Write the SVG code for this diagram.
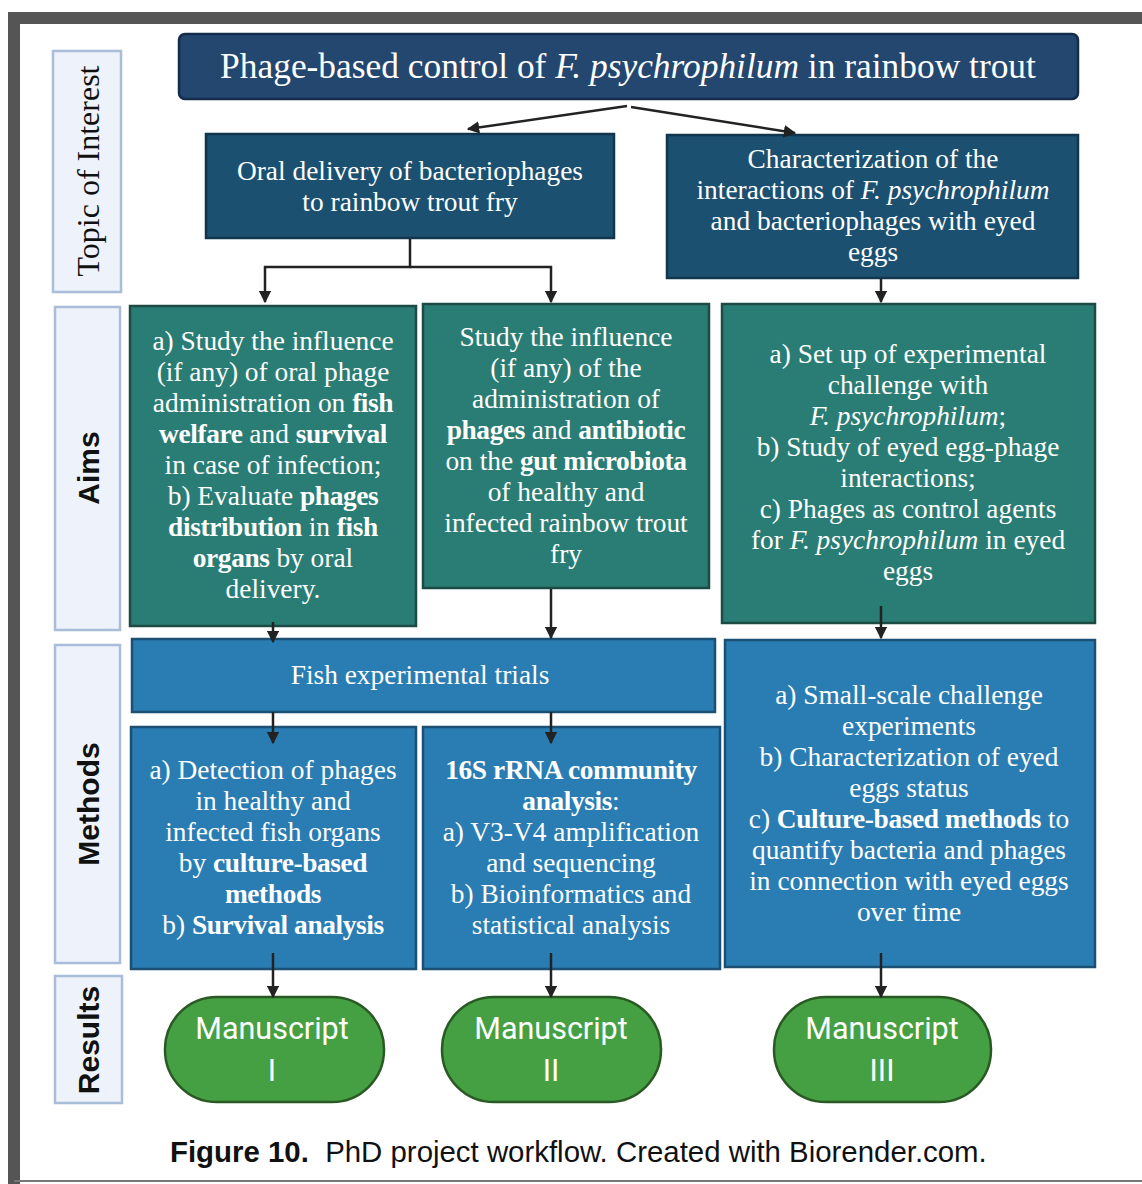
<svg xmlns="http://www.w3.org/2000/svg" width="1142" height="1184" viewBox="0 0 1142 1184">
<style>
.lab{fill:#eef3fb;stroke:#a9bcd8;stroke-width:2.5}
.labt{font-family:"Liberation Sans",Arial,sans-serif;font-weight:bold;font-size:30px;fill:#111}
.s{font-family:"Liberation Serif","Times New Roman",serif;font-size:27.4px;fill:#fff;text-anchor:middle}
.b{font-weight:bold;letter-spacing:-0.4px}
.i{font-style:italic}
.top{fill:#24476f;stroke:#142c4a;stroke-width:2.5}
.sub{fill:#1b5070;stroke:#10354c;stroke-width:2.5}
.aim{fill:#2a7d74;stroke:#1c4a44;stroke-width:2.5}
.met{fill:#2a7db3;stroke:#1b4f73;stroke-width:2.5}
.pill{fill:#45a043;stroke:#2a5a23;stroke-width:2.5}
.ms{font-family:Roboto,"Liberation Sans",sans-serif;font-size:30.5px;fill:#fff;text-anchor:middle}
.c{fill:none;stroke:#222;stroke-width:2.5}
</style>
<defs>
<marker id="ah" viewBox="0 0 10 10" refX="9" refY="5" markerWidth="5" markerHeight="5" orient="auto" markerUnits="strokeWidth">
<path d="M0,0 L10,5 L0,10 z" fill="#222"/>
</marker>
</defs>
<rect x="0" y="0" width="1142" height="1184" fill="#fff"/>
<g id="frame">
<path d="M14,1184 V18 H1142" fill="none" stroke="#555" stroke-width="12"/>
<line x1="14" y1="1181" x2="1142" y2="1181" stroke="#777" stroke-width="2"/>
</g>
<g id="label-topic">
<rect class="lab" x="53" y="51" width="68" height="241"/>
<text transform="translate(99,171) rotate(-90)" text-anchor="middle" style="font-family:'Liberation Serif',serif;font-size:32px;fill:#111">Topic of Interest</text>
</g>
<g id="label-aims">
<rect class="lab" x="55" y="307" width="65" height="323"/>
<text class="labt" transform="translate(99,468) rotate(-90)" text-anchor="middle">Aims</text>
</g>
<g id="label-methods">
<rect class="lab" x="55" y="645" width="65" height="318"/>
<text class="labt" transform="translate(99,804) rotate(-90)" text-anchor="middle">Methods</text>
</g>
<g id="label-results">
<rect class="lab" x="55" y="976" width="67" height="127"/>
<text class="labt" transform="translate(99,1040) rotate(-90)" text-anchor="middle">Results</text>
</g>
<g id="title">
<rect class="top" x="179" y="34" width="899" height="65" rx="6"/>
<text class="s" x="628" y="78" style="font-size:35.4px">Phage-based control of <tspan class="i">F. psychrophilum</tspan> in rainbow trout</text>
</g>
<g id="oral">
<rect class="sub" x="206" y="134" width="408" height="104"/>
<text class="s" x="410" y="180">Oral delivery of bacteriophages</text>
<text class="s" x="410" y="211">to rainbow trout fry</text>
</g>
<g id="charact">
<rect class="sub" x="667" y="135" width="411" height="143"/>
<text class="s" x="873" y="168">Characterization of the</text>
<text class="s" x="873" y="199">interactions of <tspan class="i">F. psychrophilum</tspan></text>
<text class="s" x="873" y="230">and bacteriophages with eyed</text>
<text class="s" x="873" y="261">eggs</text>
</g>
<g id="aim1">
<rect class="aim" x="130" y="306" width="286" height="320"/>
<text class="s" x="273" y="350">a) Study the influence</text>
<text class="s" x="273" y="381">(if any) of oral phage</text>
<text class="s" x="273" y="412">administration on <tspan class="b">fish</tspan></text>
<text class="s" x="273" y="443"><tspan class="b">welfare</tspan> and <tspan class="b">survival</tspan></text>
<text class="s" x="273" y="474">in case of infection;</text>
<text class="s" x="273" y="505">b) Evaluate <tspan class="b">phages</tspan></text>
<text class="s" x="273" y="536"><tspan class="b">distribution</tspan> in <tspan class="b">fish</tspan></text>
<text class="s" x="273" y="567"><tspan class="b">organs</tspan> by oral</text>
<text class="s" x="273" y="598">delivery.</text>
</g>
<g id="aim2">
<rect class="aim" x="423" y="304" width="286" height="284"/>
<text class="s" x="566" y="346">Study the influence</text>
<text class="s" x="566" y="377">(if any) of the</text>
<text class="s" x="566" y="408">administration of</text>
<text class="s" x="566" y="439"><tspan class="b">phages</tspan> and <tspan class="b">antibiotic</tspan></text>
<text class="s" x="566" y="470">on the <tspan class="b">gut microbiota</tspan></text>
<text class="s" x="566" y="501">of healthy and</text>
<text class="s" x="566" y="532">infected rainbow trout</text>
<text class="s" x="566" y="563">fry</text>
</g>
<g id="aim3">
<rect class="aim" x="722" y="304" width="373" height="319"/>
<text class="s" x="908" y="363">a) Set up of experimental</text>
<text class="s" x="908" y="394">challenge with</text>
<text class="s" x="908" y="425"><tspan class="i">F. psychrophilum</tspan>;</text>
<text class="s" x="908" y="456">b) Study of eyed egg-phage</text>
<text class="s" x="908" y="487">interactions;</text>
<text class="s" x="908" y="518">c) Phages as control agents</text>
<text class="s" x="908" y="549">for <tspan class="i">F. psychrophilum</tspan> in eyed</text>
<text class="s" x="908" y="580">eggs</text>
</g>
<g id="fish-trials">
<rect class="met" x="132" y="639" width="583" height="73"/>
<text class="s" x="420" y="684">Fish experimental trials</text>
</g>
<g id="method1">
<rect class="met" x="131" y="727" width="285" height="242"/>
<text class="s" x="273" y="779">a) Detection of phages</text>
<text class="s" x="273" y="810">in healthy and</text>
<text class="s" x="273" y="841">infected fish organs</text>
<text class="s" x="273" y="872">by <tspan class="b">culture-based</tspan></text>
<text class="s b" x="273" y="903">methods</text>
<text class="s" x="273" y="934">b) <tspan class="b">Survival analysis</tspan></text>
</g>
<g id="method2">
<rect class="met" x="423" y="727" width="297" height="242"/>
<text class="s b" x="571" y="779">16S rRNA community</text>
<text class="s" x="571" y="810"><tspan class="b">analysis</tspan>:</text>
<text class="s" x="571" y="841">a) V3-V4 amplification</text>
<text class="s" x="571" y="872">and sequencing</text>
<text class="s" x="571" y="903">b) Bioinformatics and</text>
<text class="s" x="571" y="934">statistical analysis</text>
</g>
<g id="method3">
<rect class="met" x="725" y="640" width="370" height="327"/>
<text class="s" x="909" y="704">a) Small-scale challenge</text>
<text class="s" x="909" y="735">experiments</text>
<text class="s" x="909" y="766">b) Characterization of eyed</text>
<text class="s" x="909" y="797">eggs status</text>
<text class="s" x="909" y="828">c) <tspan class="b">Culture-based methods</tspan> to</text>
<text class="s" x="909" y="859">quantify bacteria and phages</text>
<text class="s" x="909" y="890">in connection with eyed eggs</text>
<text class="s" x="909" y="921">over time</text>
</g>
<g id="ms1">
<rect class="pill" x="165" y="997" width="219" height="105" rx="52"/>
<text class="ms" x="272" y="1039">Manuscript</text>
<text class="ms" x="272" y="1081">I</text>
</g>
<g id="ms2">
<rect class="pill" x="442" y="997" width="219" height="105" rx="52"/>
<text class="ms" x="551" y="1039">Manuscript</text>
<text class="ms" x="551" y="1081">II</text>
</g>
<g id="ms3">
<rect class="pill" x="774" y="997" width="217" height="105" rx="52"/>
<text class="ms" x="882" y="1039">Manuscript</text>
<text class="ms" x="882" y="1081">III</text>
</g>
<g id="connectors">
<polyline class="c" points="627,106 468,129" marker-end="url(#ah)"/>
<polyline class="c" points="631,107 795,133" marker-end="url(#ah)"/>
<polyline class="c" points="410,239 410,267 265,267 265,302" marker-end="url(#ah)"/>
<polyline class="c" points="410,267 551,267 551,302" marker-end="url(#ah)"/>
<line class="c" x1="881" y1="279" x2="881" y2="302" marker-end="url(#ah)"/>
<line class="c" x1="273" y1="622" x2="273" y2="642" marker-end="url(#ah)"/>
<line class="c" x1="551" y1="589" x2="551" y2="638" marker-end="url(#ah)"/>
<line class="c" x1="881" y1="606" x2="881" y2="638" marker-end="url(#ah)"/>
<line class="c" x1="273" y1="712" x2="273" y2="743" marker-end="url(#ah)"/>
<line class="c" x1="551" y1="712" x2="551" y2="743" marker-end="url(#ah)"/>
<line class="c" x1="273" y1="953" x2="273" y2="997" marker-end="url(#ah)"/>
<line class="c" x1="551" y1="953" x2="551" y2="997" marker-end="url(#ah)"/>
<line class="c" x1="881" y1="953" x2="881" y2="997" marker-end="url(#ah)"/>
</g>
<g id="caption">
<text x="170" y="1162" style="font-family:'Liberation Sans',Arial,sans-serif;font-size:29.4px;fill:#111"><tspan font-weight="bold">Figure 10.</tspan>&#160; PhD project workflow. Created with Biorender.com.</text>
</g>
</svg>
